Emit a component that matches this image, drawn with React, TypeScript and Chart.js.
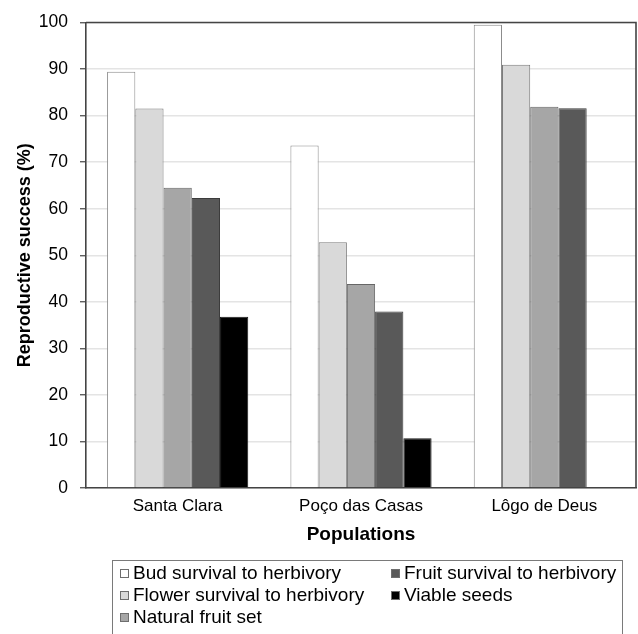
import React, { useEffect, useRef } from "react";
import { Chart, registerables } from "chart.js";

Chart.register(...registerables);

const categories = ["Santa Clara", "Poço das Casas", "Lôgo de Deus"];
const budSurvival = [89.4, 73.6, 99.5];
const flowerSurvival = [81.5, 52.8, 90.9];
const naturalFruitSet = [64.5, 43.8, 81.9];
const fruitSurvival = [62.3, 37.9, 81.6];
const viableSeeds: (number | null)[] = [36.8, 10.7, null];

const seriesNames = [
  "Bud survival to herbivory",
  "Flower survival to herbivory",
  "Natural fruit set",
  "Fruit survival to herbivory",
  "Viable seeds",
];
const seriesValues = [budSurvival, flowerSurvival, naturalFruitSet, fruitSurvival, viableSeeds];
const seriesColors = ["#ffffff", "#d9d9d9", "#a6a6a6", "#595959", "#000000"];
const seriesBorders = ["#8a8a8a", "#7a7a7a", "#666666", "#3c3c3c", "#1a1a1a"];

const yMin = 0;
const yMax = 100;
const yStep = 10;

const FONT = "'Liberation Sans', Arial, Helvetica, sans-serif";
const W = 638;
const H = 634;

const framePlugin = {
  id: "frame",
  afterDraw(chart: any) {
    const { ctx, chartArea } = chart;
    ctx.save();
    ctx.strokeStyle = "#444444";
    ctx.lineWidth = 1.6;
    ctx.beginPath();
    ctx.moveTo(chartArea.left, chartArea.top);
    ctx.lineTo(chartArea.right, chartArea.top);
    ctx.lineTo(chartArea.right, chartArea.bottom);
    ctx.stroke();
    ctx.restore();
  },
};

export default function App() {
  const canvasRef = useRef<HTMLCanvasElement | null>(null);

  useEffect(() => {
    if (!canvasRef.current) return;
    const chart = new Chart(canvasRef.current, {
      type: "bar",
      data: {
        labels: categories,
        datasets: seriesNames.map((name, i) => ({
          label: name,
          data: seriesValues[i],
          backgroundColor: seriesColors[i],
          borderColor: seriesBorders[i],
          borderWidth: 1,
          categoryPercentage: 0.77,
          barPercentage: 1.0,
        })),
      },
      options: {
        responsive: false,
        animation: false,
        layout: { padding: { left: 0, right: 2, top: 18, bottom: 74 } },
        plugins: {
          legend: { display: false },
          tooltip: { enabled: false },
        },
        scales: {
          x: {
            grid: { display: false, drawTicks: false },
            border: { display: true, color: "#444444", width: 1.6 },
            ticks: {
              color: "#000",
              padding: 8,
              font: { family: FONT, size: 17 },
              maxRotation: 0,
            },
            title: {
              display: true,
              text: "Populations",
              color: "#000",
              font: { family: FONT, size: 19, weight: "bold" },
              padding: { top: 4, bottom: 14 },
            },
            afterFit(scale: any) {
              scale.height = 72;
            },
          },
          y: {
            min: yMin,
            max: yMax,
            grid: {
              color: "#e4e4e4",
              lineWidth: 1.5,
              tickColor: "#444444",
              tickLength: 6,
              tickWidth: 1.2,
            },
            border: { display: true, color: "#444444", width: 1.6 },
            ticks: {
              stepSize: yStep,
              color: "#000",
              padding: 12,
              font: { family: FONT, size: 17.5 },
            },
            title: {
              display: true,
              text: "Reproductive success (%)",
              color: "#000",
              font: { family: FONT, size: 18, weight: "bold" },
              padding: { top: 14, bottom: 0 },
            },
            afterFit(scale: any) {
              scale.width = 86;
            },
          },
        },
      },
      plugins: [framePlugin],
    } as any);
    return () => chart.destroy();
  }, []);

  const legendLeft = 112;
  const legendTop = 560;
  const legendWidth = 511;
  const rowH = 22;
  const colX = [7, 278];

  return (
    <div style={{ position: "absolute", left: 0, top: 0, width: W, height: H, overflow: "hidden", background: "#fff" }}>
      <canvas ref={canvasRef} width={W} height={H} style={{ display: "block", width: W, height: H }} />
      <div
        style={{
          position: "absolute",
          left: legendLeft,
          top: legendTop,
          width: legendWidth,
          height: 100,
          border: "1px solid #7a7a7a",
          boxSizing: "border-box",
          fontFamily: FONT,
          fontSize: 19,
          color: "#000",
        }}
      >
        {seriesNames.map((name, i) => {
          const col = Math.floor(i / 3);
          const row = i % 3;
          return (
            <div
              key={name}
              style={{
                position: "absolute",
                left: colX[col],
                top: 1 + row * rowH,
                height: rowH,
                display: "flex",
                alignItems: "center",
                whiteSpace: "nowrap",
                lineHeight: "22px",
              }}
            >
              <span
                style={{
                  display: "inline-block",
                  width: 9,
                  height: 9,
                  background: seriesColors[i],
                  border: "1px solid #6e6e6e",
                  marginRight: 4,
                  boxSizing: "border-box",
                }}
              />
              <span>{name}</span>
            </div>
          );
        })}
      </div>
    </div>
  );
}
